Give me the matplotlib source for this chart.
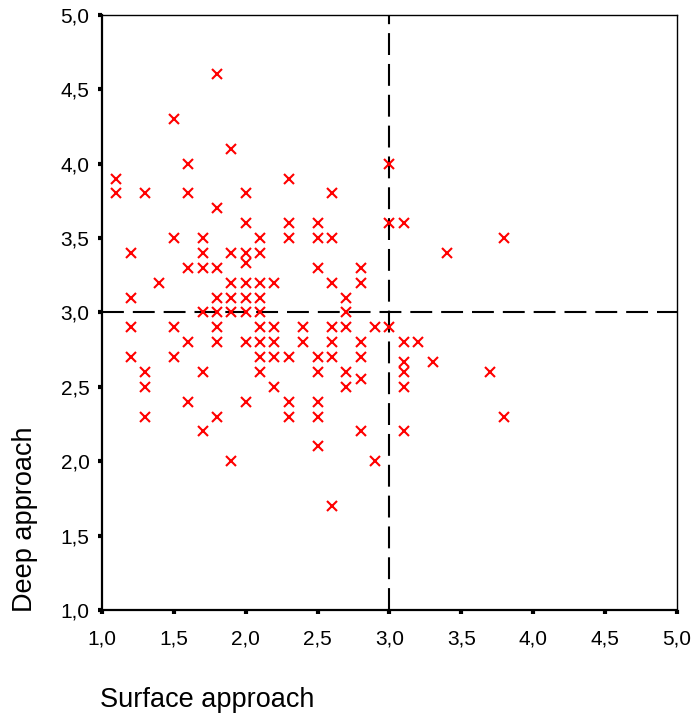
import matplotlib
matplotlib.use("Agg")
import matplotlib.pyplot as plt
from matplotlib.ticker import FixedLocator, FuncFormatter

# scores (surface, deep)
surface = [1.1, 1.1,
           1.2, 1.2, 1.2, 1.2,
           1.3, 1.3, 1.3, 1.3,
           1.4,
           1.5, 1.5, 1.5, 1.5,
           1.6, 1.6, 1.6, 1.6, 1.6,
           1.7, 1.7, 1.7, 1.7, 1.7, 1.7,
           1.8, 1.8, 1.8, 1.8, 1.8, 1.8, 1.8, 1.8,
           1.9, 1.9, 1.9, 1.9, 1.9, 1.9,
           2.0, 2.0, 2.0, 2.0, 2.0, 2.0, 2.0, 2.0, 2.0,
           2.1, 2.1, 2.1, 2.1, 2.1, 2.1, 2.1, 2.1, 2.1,
           2.2, 2.2, 2.2, 2.2, 2.2,
           2.3, 2.3, 2.3, 2.3, 2.3, 2.3,
           2.4, 2.4,
           2.5, 2.5, 2.5, 2.5, 2.5, 2.5, 2.5, 2.5,
           2.6, 2.6, 2.6, 2.6, 2.6, 2.6, 2.6,
           2.7, 2.7, 2.7, 2.7, 2.7,
           2.8, 2.8, 2.8, 2.8, 2.8, 2.8,
           2.9, 2.9,
           3.0, 3.0, 3.0,
           3.1, 3.1, 3.1, 3.1, 3.1, 3.1,
           3.2, 3.3, 3.4, 3.7, 3.8, 3.8]
deep = [3.9, 3.8,
        3.4, 3.1, 2.9, 2.7,
        3.8, 2.6, 2.5, 2.3,
        3.2,
        4.3, 3.5, 2.9, 2.7,
        4.0, 3.8, 3.3, 2.8, 2.4,
        3.5, 3.4, 3.3, 3.0, 2.6, 2.2,
        4.6, 3.7, 3.3, 3.1, 3.0, 2.9, 2.8, 2.3,
        4.1, 3.4, 3.2, 3.1, 3.0, 2.0,
        3.8, 3.6, 3.4, 3.33, 3.2, 3.1, 3.0, 2.8, 2.4,
        3.5, 3.4, 3.2, 3.1, 3.0, 2.9, 2.8, 2.7, 2.6,
        3.2, 2.9, 2.8, 2.7, 2.5,
        3.9, 3.6, 3.5, 2.7, 2.4, 2.3,
        2.9, 2.8,
        3.6, 3.5, 3.3, 2.7, 2.6, 2.4, 2.3, 2.1,
        3.8, 3.5, 3.2, 2.9, 2.8, 2.7, 1.7,
        3.1, 3.0, 2.9, 2.6, 2.5,
        3.3, 3.2, 2.8, 2.7, 2.55, 2.2,
        2.9, 2.0,
        4.0, 3.6, 2.9,
        3.6, 2.8, 2.67, 2.6, 2.5, 2.2,
        2.8, 2.67, 3.4, 2.6, 3.5, 2.3]

ticks = [1.0, 1.5, 2.0, 2.5, 3.0, 3.5, 4.0, 4.5, 5.0]
cut = 3.0

fonts = ['Liberation Sans', 'DejaVu Sans']

fig = plt.figure(figsize=(6.92, 7.15), dpi=100)
ax = fig.add_axes([0.1474, 0.1469, 0.8309, 0.8322])

ax.plot(surface, deep, linestyle='none', marker='x', color='#ff0000',
        markersize=7, markeredgewidth=1.5, clip_on=False, zorder=3)

ax.axvline(cut, color='black', lw=1.5, linestyle=(0, (10.5, 4.3)), zorder=2)
ax.axhline(cut, color='black', lw=1.5, linestyle=(0, (10.5, 4.3)), zorder=2)

ax.set_xlim(1.0, 5.0)
ax.set_ylim(1.0, 5.0)
ax.xaxis.set_major_locator(FixedLocator(ticks))
ax.yaxis.set_major_locator(FixedLocator(ticks))
fmt = FuncFormatter(lambda v, p: f"{v:.1f}".replace('.', ','))
ax.xaxis.set_major_formatter(fmt)
ax.yaxis.set_major_formatter(fmt)

ax.tick_params(direction='out', length=3, width=3, color='black')
ax.tick_params(axis='x', pad=11)
ax.tick_params(axis='y', pad=6)
for lab in ax.get_xticklabels() + ax.get_yticklabels():
    lab.set_family(fonts)
    lab.set_fontsize(15)

ax.spines['left'].set_linewidth(1.6)
ax.spines['bottom'].set_linewidth(1.6)
ax.spines['top'].set_linewidth(1.0)
ax.spines['right'].set_linewidth(1.0)

fig.text(0.036, 1 - 612 / 715, 'Deep approach', rotation=90, ha='center',
         va='bottom', fontsize=19.5, family=fonts)
fig.text(100 / 692, 1 - 707 / 715, 'Surface approach', ha='left',
         va='baseline', fontsize=19.5, family=fonts)

fig.savefig('out.png', dpi=100)
